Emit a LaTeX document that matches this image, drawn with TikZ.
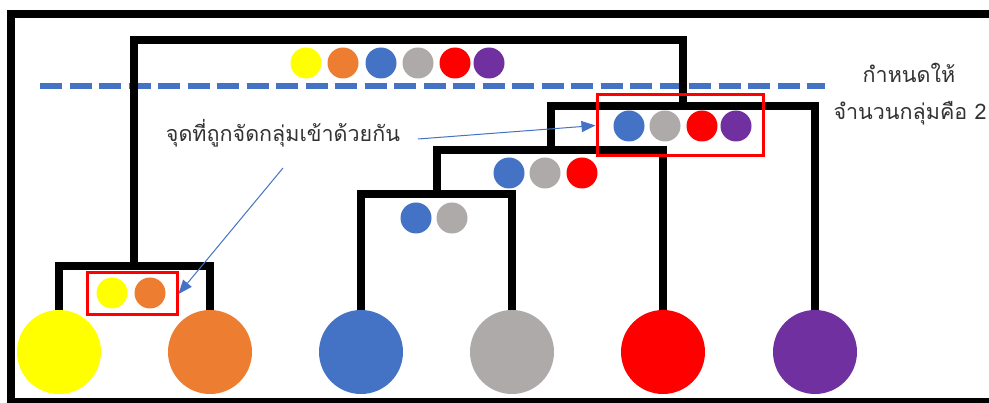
\documentclass[tikz,border=0pt]{standalone}
\usepackage{fontspec}
\newfontfamily\thaifont[Script=Thai]{Loma}
\usetikzlibrary{arrows.meta}
\definecolor{cyel}{HTML}{FFFF00}
\definecolor{corg}{HTML}{ED7D31}
\definecolor{cblu}{HTML}{4472C4}
\definecolor{cgry}{HTML}{AEAAAA}
\definecolor{cred}{HTML}{FF0000}
\definecolor{cpur}{HTML}{7030A0}
\begin{document}
\begin{tikzpicture}[x=1pt,y=-1pt,
  leaf/.style={circle,minimum size=84pt,inner sep=0pt,draw=none},
  dot/.style={circle,minimum size=31pt,inner sep=0pt,draw=none},
  dend/.style={line width=8pt,line join=miter,black},
  redbox/.style={draw=cred,line width=3pt,inner sep=0pt},
  lbl/.style={font=\thaifont\fontsize{21.5}{26}\selectfont,text=black!80,inner sep=0pt},
  arr/.style={cblu,line width=1pt,-{Triangle[length=14pt,width=11pt]}}]
\useasboundingbox (0,0) rectangle (989,403);
\clip (0,0) rectangle (989,403);
\fill[white] (0,0) rectangle (989,403);
% frame
\draw[line width=8pt] (11,14) rectangle (1010,402);
% dashed cut line
\draw[cblu,line width=6pt,dash pattern=on 22pt off 7.5pt] (40,86) -- (825,86);
% leaves
\node[leaf,fill=cyel] (l1) at (59,352) {};
\node[leaf,fill=corg] (l2) at (210,352) {};
\node[leaf,fill=cblu] (l3) at (361,352) {};
\node[leaf,fill=cgry] (l4) at (512,352) {};
\node[leaf,fill=cred] (l5) at (663,352) {};
\node[leaf,fill=cpur] (l6) at (815,352) {};
% join points
\coordinate (c12) at (134,266);
\coordinate (c34) at (437,194);
\coordinate (c345) at (551,150);
\coordinate (c3456) at (683,106);
\coordinate (ctop) at (400,40);
% dendrogram
\draw[dend] (l1.north) |- (c12) -| (l2.north);
\draw[dend] (l3.north) |- (c34) -| (l4.north);
\draw[dend] (c34) |- (c345) -| (l5.north);
\draw[dend] (c345) |- (c3456) -| (l6.north);
\draw[dend] (c12) |- (ctop) -| (c3456);
% top dots
\node[dot,fill=cyel] (t1) at (306,63) {};
\node[dot,fill=corg] (t2) at (343,63) {};
\node[dot,fill=cblu] (t3) at (381,63) {};
\node[dot,fill=cgry] (t4) at (418,63) {};
\node[dot,fill=cred] (t5) at (455,63) {};
\node[dot,fill=cpur] (t6) at (489,63) {};
% cluster dots
\node[dot,fill=cyel] (a1) at (112,293) {};
\node[dot,fill=corg] (a2) at (150,293) {};
\node[dot,fill=cblu] (b1) at (416,218) {};
\node[dot,fill=cgry] (b2) at (452,218) {};
\node[dot,fill=cblu] (d1) at (509,173) {};
\node[dot,fill=cgry] (d2) at (545,173) {};
\node[dot,fill=cred] (d3) at (582,173) {};
\node[dot,fill=cblu] (e1) at (629,126) {};
\node[dot,fill=cgry] (e2) at (665,126) {};
\node[dot,fill=cred] (e3) at (702,126) {};
\node[dot,fill=cpur] (e4) at (736,126) {};
% red boxes
\node[redbox,minimum width=90pt,minimum height=42pt] (box1) at (132,294) {};
\node[redbox,minimum width=166pt,minimum height=61pt] (box2) at (680,125.5) {};
% labels
\node[lbl] (txt) at (283,133) {จุดที่ถูกจัดกลุ่มเข้าด้วยกัน};
\node[lbl] (k1) at (909,73) {กำหนดให้};
\node[lbl] (k2) at (910,113) {จำนวนกลุ่มคือ 2};
% arrows
\coordinate (s1) at (283,168);
\coordinate (s2) at (418,139);
\draw[arr] (s1) -- (box1.east);
\draw[arr] (s2) -- (box2.west);
\end{tikzpicture}
\end{document}
